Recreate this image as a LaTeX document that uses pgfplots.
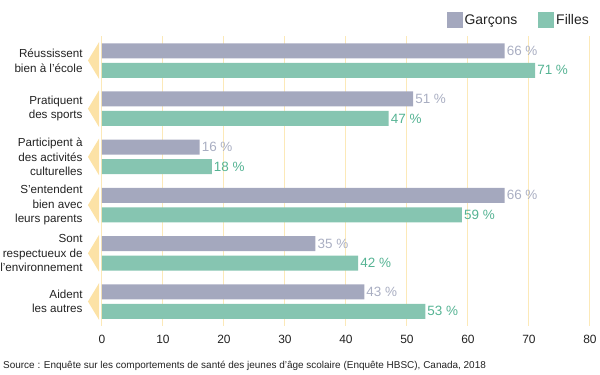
\documentclass[border=0pt]{standalone}
\usepackage{pgfplots}
\pgfplotsset{compat=1.18}
\usepackage{fontspec}
\setmainfont{Liberation Sans}
\definecolor{garc}{HTML}{A4A8BE}
\definecolor{fill}{HTML}{86C5B1}
\definecolor{garctxt}{HTML}{A9AEC2}
\definecolor{filltxt}{HTML}{55B393}
\definecolor{gridc}{HTML}{FCE9B8}
\definecolor{chev}{HTML}{FCE2A6}
\definecolor{txt}{HTML}{222222}
\begin{document}
\begin{tikzpicture}
\useasboundingbox (-102bp,-49.4bp) rectangle (498bp,325.6bp);
\begin{axis}[
  at={(0,0)}, anchor=south west,
  scale only axis, width=488bp, height=289.2bp,
  xmin=0, xmax=80, ymin=-0.5, ymax=5.5,
  y dir=reverse,
  xbar, bar width=15bp,
  clip=false,
  axis line style={draw=none},
  tick style={draw=none},
  xmajorgrids, grid style={gridc, line width=1bp},
  xtick={0,10,...,80},
  ytick={0,1,2,3,4,5},
  yticklabels={{Réussissent\\bien à l’école},{Pratiquent\\des sports},{Participent à\\des activités\\culturelles},{S’entendent\\bien avec\\leurs parents},{Sont\\respectueux de\\l’environnement},{Aident\\les autres}},
  yticklabel style={align=right, font=\fontsize{11.7}{14.6}\selectfont, text=txt, inner sep=0pt, xshift=-15bp},
  xticklabel style={font=\fontsize{12}{13}\selectfont, text=txt, inner sep=0pt, yshift=-9bp},
  /pgf/number format/assume math mode=true,
  nodes near coords={\pgfmathprintnumber{\pgfplotspointmeta}~\%},
  nodes near coords style={font=\fontsize{13.5}{15}\selectfont, anchor=west, inner sep=2bp},
  point meta=explicit,
  legend columns=2,
  legend style={draw=none, fill=none, at={(1.002,1.0567)}, anchor=east, inner sep=0pt,
    font=\fontsize{14}{16}\selectfont, text=txt,
    /tikz/every even column/.append style={column sep=19bp}},
  legend image code/.code={\fill[#1] (0bp,-8bp) rectangle (16bp,8bp);},
]
\pgfplotsinvokeforeach{0,...,5}{
  \fill[chev] (axis cs:-2.3,#1) -- (axis cs:-0.49,#1-0.38) -- (axis cs:-0.49,#1+0.38) -- cycle;
}
\addplot[draw=none, fill=garc, bar shift=9.75bp, nodes near coords style={text=garctxt}] coordinates {
  (66,0) [66] (51,1) [51] (16,2) [16] (66,3) [66] (35,4) [35] (43,5) [43]};
\addlegendentry{Garçons}
\addplot[draw=none, fill=fill, bar shift=-9.75bp, nodes near coords style={text=filltxt}] coordinates {
  (71,0) [71] (47,1) [47] (18,2) [18] (59,3) [59] (42,4) [42] (53,5) [53]};
\addlegendentry{Filles}
\end{axis}
\node[anchor=base west, inner sep=0pt, font=\fontsize{10}{12}\selectfont, text=txt] at (-99bp,-42.4bp) {Source : Enquête sur les comportements de santé des jeunes d’âge scolaire (Enquête HBSC), Canada, 2018};
\end{tikzpicture}
\end{document}
